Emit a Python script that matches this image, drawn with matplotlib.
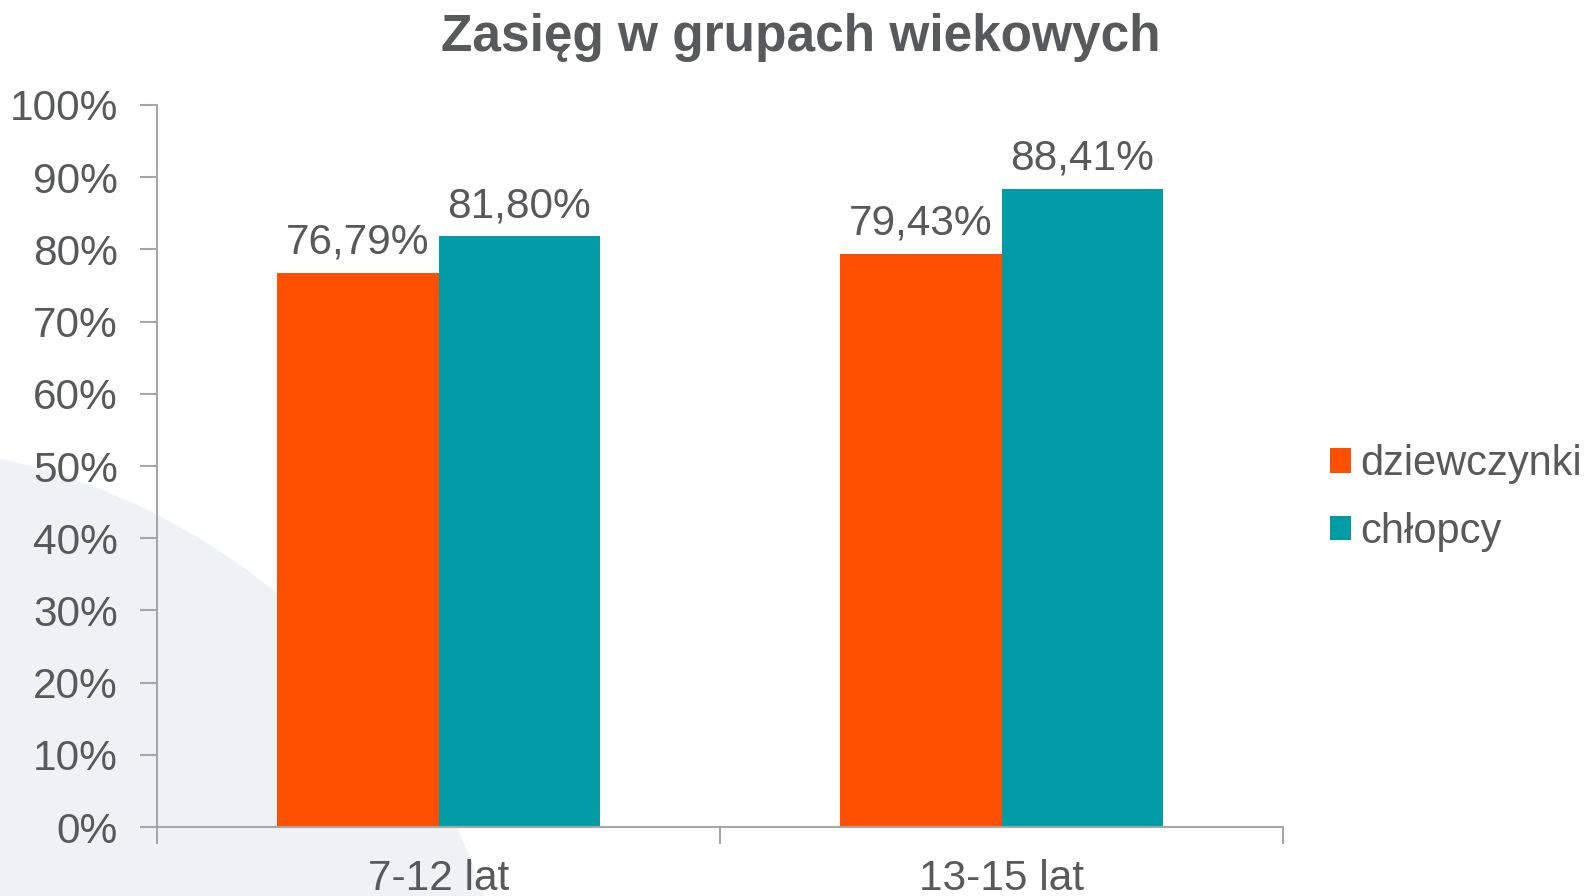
import matplotlib
matplotlib.use("Agg")
import matplotlib.pyplot as plt
from matplotlib.patches import Ellipse
import numpy as np

categories = ["7-12 lat", "13-15 lat"]
series_names = ["dziewczynki", "chłopcy"]
girls = [76.79, 79.43]
boys = [81.80, 88.41]
y_ticks = [0, 10, 20, 30, 40, 50, 60, 70, 80, 90, 100]

orange = "#fe5000"
teal = "#009ca6"
text_col = "#58595b"
axis_col = "#a6a6a6"

plt.rcParams['font.family'] = ['Liberation Sans', 'DejaVu Sans']

W, H = 1592, 896
fig = plt.figure(figsize=(W / 100, H / 100), dpi=100)
fig.patch.set_facecolor("white")

# light background shape in the lower left
r = 659
bg = Ellipse((-142 / W, 1 - 1102 / H), 2 * r / W, 2 * r / H,
             transform=fig.transFigure, facecolor="#eff2f5", edgecolor="none", zorder=-5)
fig.patches.append(bg)

ax = fig.add_axes([157 / W, 1 - 827 / H, (1283 - 157) / W, (827 - 105) / H])
ax.set_facecolor("none")
ax.set_zorder(2)

x = np.arange(len(categories))
w = 0.286
b1 = ax.bar(x - w / 2, girls, w, color=orange, label=series_names[0], zorder=2)
b2 = ax.bar(x + w / 2, boys, w, color=teal, label=series_names[1], zorder=2)

for bars, vals in ((b1, girls), (b2, boys)):
    for bar, v in zip(bars, vals):
        ax.annotate(f"{v:.2f}%".replace(".", ","),
                    xy=(bar.get_x() + bar.get_width() / 2, v),
                    xytext=(0, 7), textcoords="offset points",
                    ha="center", va="bottom", fontsize=30.5, color=text_col)

ax.set_xlim(-0.5, 1.5)
ax.set_ylim(0, 100)
ax.set_yticks(y_ticks)
ax.set_yticklabels([f"{t}%" for t in y_ticks])
ax.set_xticks(x)
ax.set_xticklabels(categories)
ax.set_xticks([-0.5, 0.5, 1.5], minor=True)

for s in ("top", "right"):
    ax.spines[s].set_visible(False)
for s in ("left", "bottom"):
    ax.spines[s].set_color(axis_col)
    ax.spines[s].set_linewidth(1.5)

ax.tick_params(axis="y", length=12, width=1.5, color=axis_col, labelsize=30.5,
               labelcolor=text_col, pad=16)
ax.tick_params(axis="x", which="major", length=0, labelsize=30.5,
               labelcolor=text_col, pad=23)
ax.tick_params(axis="x", which="minor", length=12, width=1.5, color=axis_col)

fig.text(0.503, 1 - 37 / H, "Zasięg w grupach wiekowych", ha="center", va="center",
         fontsize=37, fontweight="bold", color=text_col)

leg = ax.legend(loc="center left", bbox_to_anchor=(1292 / W, 1 - 498 / H),
                bbox_transform=fig.transFigure, frameon=False, fontsize=30,
                handlelength=0.52, handleheight=0.52, handletextpad=0.22,
                labelspacing=0.66, labelcolor=text_col)

fig.savefig("out.png", dpi=100, facecolor="white")
